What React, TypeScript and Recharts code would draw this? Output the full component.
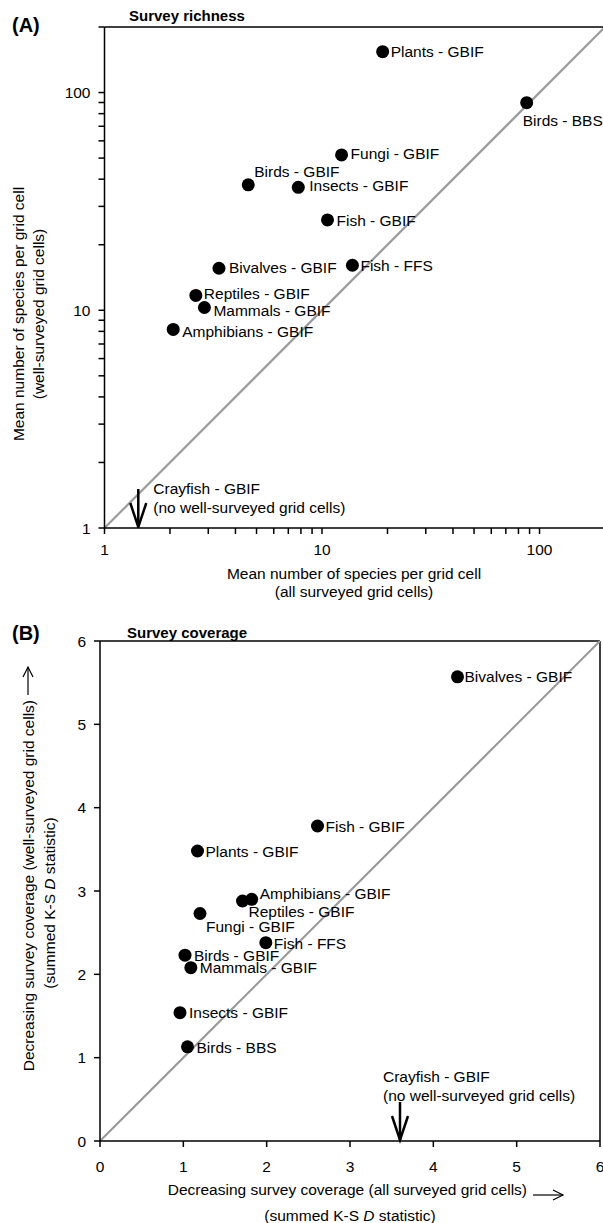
import React from "react";
import { ScatterChart, Scatter, XAxis, YAxis, ReferenceLine } from "recharts";

const taxa = [
  "Plants - GBIF",
  "Birds - BBS",
  "Fungi - GBIF",
  "Birds - GBIF",
  "Insects - GBIF",
  "Fish - GBIF",
  "Bivalves - GBIF",
  "Fish - FFS",
  "Reptiles - GBIF",
  "Mammals - GBIF",
  "Amphibians - GBIF",
];

// (A) mean species per grid cell
const richnessAll = [19.0, 87.3, 12.3, 4.58, 7.78, 10.6, 3.36, 13.8, 2.63, 2.88, 2.07];
const richnessWell = [154, 89.8, 51.7, 37.7, 36.7, 26.0, 15.6, 16.1, 11.7, 10.3, 8.17];

// (B) summed K-S D statistic
const coverageAll = [1.17, 1.05, 1.2, 1.02, 0.96, 2.61, 4.29, 1.99, 1.71, 1.09, 1.82];
const coverageWell = [3.48, 1.13, 2.73, 2.23, 1.54, 3.78, 5.57, 2.38, 2.88, 2.08, 2.9];

// crayfish has no well-surveyed cells: only an x value
const crayfishRichness = 1.43;
const crayfishCoverage = 3.6;

const logTicks = [1, 2, 3, 4, 5, 6, 7, 8, 9, 10, 20, 30, 40, 50, 60, 70, 80, 90, 100, 200];
const logLabels = [1, 10, 100];
const linTicks = [0, 1, 2, 3, 4, 5, 6];

// label offsets (text start dx, text centre dy) relative to each dot
const placeA: [number, number][] = [
  [8, 0], [-4, 18], [9, -1], [6, -13], [11, -2], [9, 1], [10, -1], [8, 0], [8, -2], [9, 3], [9, 2],
];
const placeB: [number, number][] = [
  [8, 0], [9, 1], [6, 13], [9, 0], [9, 0], [8, 0], [7, 0], [8, 1], [6, 10], [9, 0], [8, -6],
];

const FONT = "'Liberation Sans', Arial, Helvetica, sans-serif";
const FS = 15.5;
const MID = 5.5; // baseline shift to centre a line of text

const richness = taxa.map((name, i) => ({ name, i, x: richnessAll[i], y: richnessWell[i] }));
const coverage = taxa.map((name, i) => ({ name, i, x: coverageAll[i], y: coverageWell[i] }));

const dotShape = (place: [number, number][]) => (props: any) => {
  const { cx, cy, payload } = props;
  const [dx, dy] = place[payload.i];
  return (
    <g>
      <circle cx={cx} cy={cy} r={6.5} fill="#000" />
      <text x={cx + dx} y={cy + dy + MID} fontSize={FS} fontFamily={FONT} fill="#000">
        {payload.name}
      </text>
    </g>
  );
};

const arrowDown = (cx: number, cy: number) => (
  <g stroke="#000" strokeWidth={2.5} fill="none">
    <line x1={cx} y1={cy - 39} x2={cx} y2={cy - 1} />
    <polyline points={`${cx - 8},${cy - 25} ${cx},${cy - 1} ${cx + 8},${cy - 25}`} />
  </g>
);

const crayfishA = (props: any) => {
  const { cx, cy } = props;
  return (
    <g>
      {arrowDown(cx, cy)}
      <text x={cx + 15} y={cy - 40 + MID} fontSize={FS} fontFamily={FONT} fill="#000">Crayfish - GBIF</text>
      <text x={cx + 15} y={cy - 21 + MID} fontSize={FS} fontFamily={FONT} fill="#000">(no well-surveyed grid cells)</text>
    </g>
  );
};

const crayfishB = (props: any) => {
  const { cx, cy } = props;
  return (
    <g>
      {arrowDown(cx, cy)}
      <text x={cx - 17} y={cy - 65 + MID} fontSize={FS} fontFamily={FONT} fill="#000">Crayfish - GBIF</text>
      <text x={cx - 17} y={cy - 46 + MID} fontSize={FS} fontFamily={FONT} fill="#000">(no well-surveyed grid cells)</text>
    </g>
  );
};

const tickStyle = { fill: "#000", fontSize: FS, fontFamily: FONT };
const axisStroke = { stroke: "#000", strokeWidth: 1.5 };

function Overlay() {
  const t = { fontFamily: FONT, fill: "#000" };
  return (
    <svg width={603} height={1223} style={{ position: "absolute", left: 0, top: 0, pointerEvents: "none" }}>
      {/* panel A */}
      <text x={12} y={25} dominantBaseline="central" fontSize={20} fontWeight="bold" {...t}>(A)</text>
      <text x={129} y={15} dominantBaseline="central" fontSize={15} fontWeight="bold" {...t}>Survey richness</text>
      <text x={354} y={573} textAnchor="middle" dominantBaseline="central" fontSize={FS} {...t}>
        Mean number of species per grid cell
      </text>
      <text x={354} y={591} textAnchor="middle" dominantBaseline="central" fontSize={FS} {...t}>
        (all surveyed grid cells)
      </text>
      <text x={18} y={314} transform="rotate(-90 18 314)" textAnchor="middle" dominantBaseline="central" fontSize={FS} {...t}>
        Mean number of species per grid cell
      </text>
      <text x={38} y={314} transform="rotate(-90 38 314)" textAnchor="middle" dominantBaseline="central" fontSize={FS} {...t}>
        (well-surveyed grid cells)
      </text>

      {/* panel B */}
      <text x={12} y={633} dominantBaseline="central" fontSize={20} fontWeight="bold" {...t}>(B)</text>
      <text x={127} y={632} dominantBaseline="central" fontSize={15} fontWeight="bold" {...t}>Survey coverage</text>
      <text x={527} y={1189} textAnchor="end" dominantBaseline="central" fontSize={FS} {...t}>
        Decreasing survey coverage (all surveyed grid cells)
      </text>
      <g stroke="#000" strokeWidth={1.2} fill="none">
        <line x1={533} y1={1195} x2={563} y2={1195} />
        <polyline points="553,1190 563,1195 553,1200" />
      </g>
      <text x={350} y={1215} textAnchor="middle" dominantBaseline="central" fontSize={FS} {...t}>
        (summed K-S <tspan fontStyle="italic">D</tspan> statistic)
      </text>
      <text x={28} y={700} transform="rotate(-90 28 700)" textAnchor="end" dominantBaseline="central" fontSize={FS} {...t}>
        Decreasing survey coverage (well-surveyed grid cells)
      </text>
      <g stroke="#000" strokeWidth={1.2} fill="none">
        <line x1={28} y1={695} x2={28} y2={667} />
        <polyline points="23,677 28,667 33,677" />
      </g>
      <text x={49} y={903} transform="rotate(-90 49 903)" textAnchor="middle" dominantBaseline="central" fontSize={FS} {...t}>
        (summed K-S <tspan fontStyle="italic">D</tspan> statistic)
      </text>
    </svg>
  );
}

export default function App() {
  return (
    <div style={{ position: "absolute", left: 0, top: 0, width: 603, height: 1223, overflow: "hidden", background: "#fff" }}>
      <div style={{ position: "absolute", left: 0, top: 0 }}>
        <ScatterChart width={610} height={610} margin={{ top: 27, right: 5, bottom: 42, left: 44.5 }}>
          <XAxis
            type="number"
            dataKey="x"
            scale="log"
            domain={[1, 200]}
            allowDataOverflow
            ticks={logTicks}
            interval={0}
            tickFormatter={(v) => (logLabels.includes(v) ? String(v) : "")}
            tick={tickStyle}
            tickSize={6}
            tickMargin={10}
            height={40}
            axisLine={axisStroke}
            tickLine={axisStroke}
          />
          <YAxis
            type="number"
            dataKey="y"
            scale="log"
            domain={[1, 200]}
            allowDataOverflow
            ticks={logTicks}
            interval={0}
            tickFormatter={(v) => (logLabels.includes(v) ? String(v) : "")}
            tick={tickStyle}
            tickSize={6}
            tickMargin={8}
            width={60}
            axisLine={axisStroke}
            tickLine={axisStroke}
          />
          <ReferenceLine y={200} stroke="#000" strokeWidth={1.5} />
          <ReferenceLine segment={[{ x: 1, y: 1 }, { x: 200, y: 200 }]} stroke="#9a9a9a" strokeWidth={2.2} />
          <Scatter data={richness} shape={dotShape(placeA)} isAnimationActive={false} />
          <Scatter data={[{ x: crayfishRichness, y: 1 }]} shape={crayfishA} isAnimationActive={false} />
        </ScatterChart>
      </div>
      <div style={{ position: "absolute", left: 0, top: 600 }}>
        <ScatterChart width={603} height={600} margin={{ top: 41, right: 3, bottom: 19, left: 40 }}>
          <XAxis
            type="number"
            dataKey="x"
            domain={[0, 6]}
            ticks={linTicks}
            interval={0}
            tick={tickStyle}
            tickSize={6}
            tickMargin={14}
            height={40}
            axisLine={axisStroke}
            tickLine={axisStroke}
          />
          <YAxis
            type="number"
            dataKey="y"
            domain={[0, 6]}
            ticks={linTicks}
            interval={0}
            tick={tickStyle}
            tickSize={6}
            tickMargin={8}
            width={60}
            axisLine={axisStroke}
            tickLine={axisStroke}
          />
          <ReferenceLine y={6} stroke="#000" strokeWidth={1.5} />
          <ReferenceLine x={6} stroke="#000" strokeWidth={1.5} />
          <ReferenceLine segment={[{ x: 0, y: 0 }, { x: 6, y: 6 }]} stroke="#9a9a9a" strokeWidth={2.2} />
          <Scatter data={coverage} shape={dotShape(placeB)} isAnimationActive={false} />
          <Scatter data={[{ x: crayfishCoverage, y: 0 }]} shape={crayfishB} isAnimationActive={false} />
        </ScatterChart>
      </div>
      <Overlay />
    </div>
  );
}
